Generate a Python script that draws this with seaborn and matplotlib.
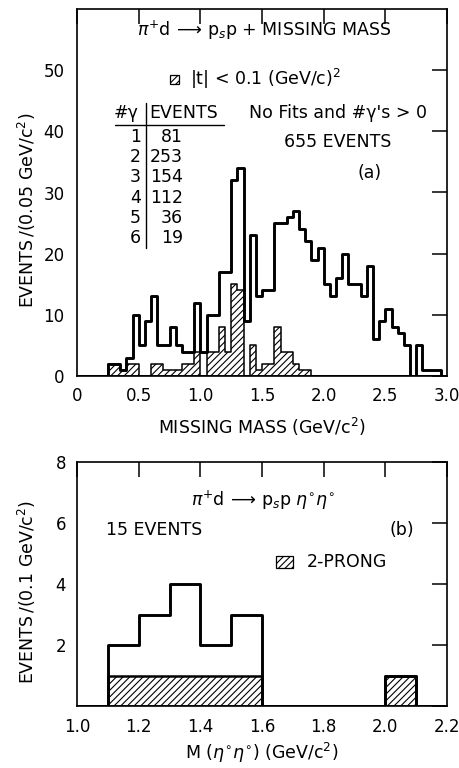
import numpy as np
import pandas as pd
import matplotlib
matplotlib.use("Agg")
import matplotlib.pyplot as plt
from matplotlib.patches import Rectangle
from matplotlib.lines import Line2D
import seaborn as sns

# ---------------- data ----------------
# Panel (a): missing mass, 0.05 GeV/c^2 bins from 0 to 3.0
mass_lo, mass_hi, mass_width = 0.0, 3.0, 0.05
all_events = [0, 0, 0, 0, 0, 2, 2, 1, 3, 10,
              5, 9, 13, 5, 5, 8, 5, 4, 4, 12,
              4, 10, 10, 17, 17, 32, 34, 9, 23, 13,
              14, 14, 25, 25, 26, 27, 24, 22, 19, 21,
              15, 13, 16, 20, 15, 15, 13, 18, 6, 9,
              11, 8, 7, 5, 0, 5, 1, 1, 1, 0]
small_t_events = [0, 0, 0, 0, 0, 2, 2, 1, 2, 2,
                  0, 0, 2, 2, 1, 1, 1, 2, 2, 4,
                  0, 4, 4, 8, 4, 15, 14, 0, 5, 1,
                  2, 2, 8, 4, 4, 2, 1, 1, 0, 0,
                  0, 0, 0, 0, 0, 0, 0, 0, 0, 0,
                  0, 0, 0, 0, 0, 0, 0, 0, 0, 0]
gamma_n = ["1", "2", "3", "4", "5", "6"]
gamma_events = ["81", "253", "154", "112", "36", "19"]
mass_ticks = [0, 0.5, 1.0, 1.5, 2.0, 2.5, 3.0]
mass_ticklabels = ["0", "0.5", "1.0", "1.5", "2.0", "2.5", "3.0"]
a_yticks = [0, 10, 20, 30, 40, 50]

# Panel (b): M(eta eta), 0.1 GeV/c^2 bins from 1.0 to 2.2
eta_lo, eta_hi, eta_width = 1.0, 2.2, 0.1
eta_events = [0, 2, 3, 4, 2, 3, 0, 0, 0, 0, 1, 0]
two_prong_events = [0, 1, 1, 1, 1, 1, 0, 0, 0, 0, 1, 0]
eta_ticks = [1.0, 1.2, 1.4, 1.6, 1.8, 2.0, 2.2]
eta_ticklabels = ["1.0", "1.2", "1.4", "1.6", "1.8", "2.0", "2.2"]
b_yticks = [0, 2, 4, 6, 8]
b_yticklabels = ["", "2", "4", "6", "8"]

# ---------------- style ----------------
sns.set_style("white")
plt.rcParams["font.family"] = ["DejaVu Sans"]
plt.rcParams["mathtext.fontset"] = "dejavusans"
plt.rcParams["hatch.linewidth"] = 0.8
plt.rcParams["text.color"] = "black"
plt.rcParams["axes.labelcolor"] = "black"
plt.rcParams["xtick.color"] = "black"
plt.rcParams["ytick.color"] = "black"

W, H = 459, 768
fig = plt.figure(figsize=(W / 100, H / 100), dpi=100)
fig.patch.set_facecolor("white")


def fx(px):
    return px / W


def fy(py):
    return 1 - py / H


FS = 12.5
TFS = 12

axA = fig.add_axes([fx(77), fy(376), 370 / W, 367 / H])
axB = fig.add_axes([fx(77), fy(706), 370 / W, 244 / H])


def centers(lo, width, n):
    return lo + width * (np.arange(n) + 0.5)


# ---------- panel (a) ----------
ca = centers(mass_lo, mass_width, len(all_events))
dfa = pd.DataFrame({"mass": ca, "all": all_events, "small_t": small_t_events})
sns.histplot(data=dfa, x="mass", weights="small_t", binwidth=mass_width,
             binrange=(mass_lo, mass_hi), element="step", fill=True,
             facecolor="white", edgecolor="black", hatch="/////",
             linewidth=1.1, ax=axA, zorder=2)
sns.histplot(data=dfa, x="mass", weights="all", binwidth=mass_width,
             binrange=(mass_lo, mass_hi), element="step", fill=False,
             color="black", linewidth=2.1, ax=axA, zorder=3)

axA.set_xlim(mass_lo, mass_hi)
axA.set_ylim(0, 60)
axA.set_xticks(mass_ticks)
axA.set_xticklabels(mass_ticklabels)
axA.set_yticks(a_yticks)
axA.set_yticklabels([str(v) for v in a_yticks])
axA.set_xlabel("MISSING MASS (GeV/c$^2$)", fontsize=FS, labelpad=8)
axA.set_ylabel("EVENTS$\\,$/(0.05 GeV/c$^2$)", fontsize=FS)
axA.yaxis.set_label_coords(-0.105, 0.45)

# ---------- panel (b) ----------
cb = centers(eta_lo, eta_width, len(eta_events))
dfb = pd.DataFrame({"m": cb, "all": eta_events, "two": two_prong_events})
sns.histplot(data=dfb, x="m", weights="two", binwidth=eta_width,
             binrange=(eta_lo, eta_hi), element="step", fill=True,
             facecolor="white", edgecolor="black", hatch="/////",
             linewidth=1.8, ax=axB, zorder=2)
sns.histplot(data=dfb, x="m", weights="all", binwidth=eta_width,
             binrange=(eta_lo, eta_hi), element="step", fill=False,
             color="black", linewidth=2.1, ax=axB, zorder=3)

axB.set_xlim(eta_lo, eta_hi)
axB.set_ylim(0, 8)
axB.set_xticks(eta_ticks)
axB.set_xticklabels(eta_ticklabels)
axB.set_yticks(b_yticks)
axB.set_yticklabels(b_yticklabels)
axB.set_xlabel("M ($\\eta^{\\circ}\\eta^{\\circ}$) (GeV/c$^2$)", fontsize=FS, labelpad=3)
axB.set_ylabel("EVENTS$\\,$/(0.1 GeV/c$^2$)", fontsize=FS)
axB.yaxis.set_label_coords(-0.105, 0.467)

for ax, xpad, ypad in ((axA, 8, 9), (axB, 9, 8)):
    for s in ax.spines.values():
        s.set_visible(True)
        s.set_color("black")
        s.set_linewidth(1.2)
    ax.tick_params(axis="both", direction="in", length=10.5, width=1.1,
                   top=True, right=True, labeltop=False, labelright=False,
                   labelsize=TFS, colors="black")
    ax.tick_params(axis="x", pad=xpad)
    ax.tick_params(axis="y", pad=ypad)
    ax.set_facecolor("white")

# ---------- annotations panel (a) ----------
fig.text(fx(264), fy(30), "$\\pi^{+}$d$\\,\\longrightarrow\\,$p$_{s}$p + MISSING MASS",
         ha="center", va="center", fontsize=FS)
fig.add_artist(Rectangle((fx(170), fy(84)), 9 / W, 9 / H, transform=fig.transFigure,
                         facecolor="white", edgecolor="black", hatch="/////", linewidth=0.9))
fig.text(fx(190), fy(79), "|t| < 0.1 (GeV/c)$^2$", ha="left", va="center", fontsize=FS)

fig.text(fx(114), fy(113), "#γ", ha="left", va="center", fontsize=FS)
fig.text(fx(149), fy(113), "EVENTS", ha="left", va="center", fontsize=FS)
fig.add_artist(Line2D([fx(115), fx(224)], [fy(125), fy(125)], transform=fig.transFigure,
                      color="black", linewidth=1.0))
fig.add_artist(Line2D([fx(146), fx(146)], [fy(103), fy(248)], transform=fig.transFigure,
                      color="black", linewidth=1.0))
row_y = [137, 157, 177, 198, 218, 238]
for n, ev, yy in zip(gamma_n, gamma_events, row_y):
    fig.text(fx(141), fy(yy), n, ha="right", va="center", fontsize=FS)
    fig.text(fx(183), fy(yy), ev, ha="right", va="center", fontsize=FS)

fig.text(fx(338), fy(113), "No Fits and #γ's > 0", ha="center", va="center", fontsize=FS)
fig.text(fx(338), fy(142), "655 EVENTS", ha="center", va="center", fontsize=FS)
fig.text(fx(370), fy(173), "(a)", ha="center", va="center", fontsize=FS)

# ---------- annotations panel (b) ----------
fig.text(fx(263), fy(500), "$\\pi^{+}$d$\\,\\longrightarrow\\,$p$_{s}$p $\\eta^{\\circ}\\eta^{\\circ}$",
         ha="center", va="center", fontsize=FS)
fig.text(fx(106), fy(530), "15 EVENTS", ha="left", va="center", fontsize=FS)
fig.text(fx(402), fy(530), "(b)", ha="center", va="center", fontsize=FS)
fig.add_artist(Rectangle((fx(276), fy(568)), 17 / W, 12 / H, transform=fig.transFigure,
                         facecolor="white", edgecolor="black", hatch="/////", linewidth=0.9))
fig.text(fx(307), fy(562), "2-PRONG", ha="left", va="center", fontsize=FS)

fig.savefig("out.png", dpi=100, facecolor="white")
